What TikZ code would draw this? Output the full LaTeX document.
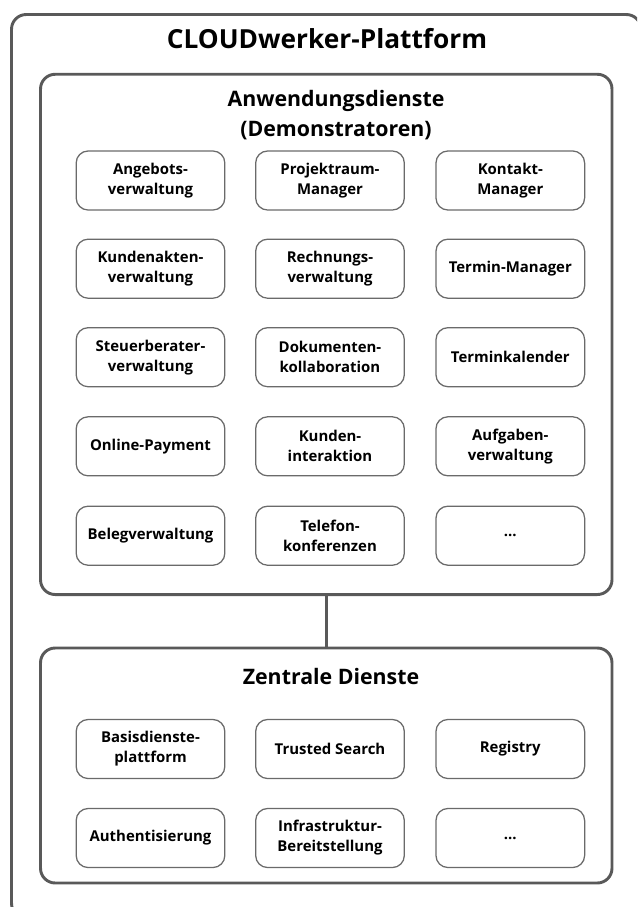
\documentclass[tikz,border=0pt]{standalone}
\usepackage{fontspec}
\setmainfont{Open Sans}
\definecolor{linegray}{HTML}{595959}
\definecolor{boxgray}{HTML}{6A6A6A}
\begin{document}
\begin{tikzpicture}[x=0.75pt,y=-0.75pt,
  bigbox/.style={draw=linegray, line width=2.2pt, rounded corners=11pt, inner sep=0pt, outer sep=0pt},
  sbox/.style={draw=boxgray, line width=0.95pt, rounded corners=9pt, minimum width=111.5pt, minimum height=44.3pt, align=center, font=\fontsize{11.2}{15}\selectfont\bfseries, inner sep=0pt, outer sep=0pt},
  titlefont/.style={font=\fontsize{19.7}{24}\selectfont\bfseries, inner sep=0pt},
  headfont/.style={font=\fontsize{16}{22.5}\selectfont\bfseries, inner sep=0pt, align=center},
  conn/.style={draw=linegray, line width=2.2pt}]
\useasboundingbox (0,0) rectangle (637,907);
\clip (0,0) rectangle (637,907);
% containers
\node[bigbox, minimum width=472.1pt, minimum height=677.6pt] (plat) at (326.25,466.25) {};
\node[bigbox, minimum width=428.6pt, minimum height=390.2pt] (anw) at (326.25,334.4) {};
\node[bigbox, minimum width=428.6pt, minimum height=176.25pt] (zen) at (326.25,765.5) {};
\draw[conn] (anw.south) -- (zen.north);
% headings
\node[titlefont, anchor=base] (title) at (327,48) {CLOUDwerker-Plattform};
\node[headfont] (anwt) at (336,115.5) {Anwendungsdienste\\(Demonstratoren)};
\node[headfont, anchor=base] (zent) at (331,684.3) {Zentrale Dienste};
% Anwendungsdienste
\node[sbox] (a11) at (150.5,180.5) {Angebots-\\verwaltung};
\node[sbox] (a12) at (330,180.5) {Projektraum-\\Manager};
\node[sbox] (a13) at (510.3,180.5) {Kontakt-\\Manager};
\node[sbox] (a21) at (150.5,268.7) {Kundenakten-\\verwaltung};
\node[sbox] (a22) at (330,268.7) {Rechnungs-\\verwaltung};
\node[sbox] (a23) at (510.3,268.7) {Termin-Manager};
\node[sbox] (a31) at (150.5,357.2) {Steuerberater-\\verwaltung};
\node[sbox] (a32) at (330,357.2) {Dokumenten-\\kollaboration};
\node[sbox] (a33) at (510.3,357.2) {Terminkalender};
\node[sbox] (a41) at (150.5,446.3) {Online-Payment};
\node[sbox] (a42) at (330,446.3) {Kunden-\\interaktion};
\node[sbox] (a43) at (510.3,446.3) {Aufgaben-\\verwaltung};
\node[sbox] (a51) at (150.5,535.7) {Belegverwaltung};
\node[sbox] (a52) at (330,535.7) {Telefon-\\konferenzen};
\node[sbox] (a53) at (510.3,535.7) {...};
% Zentrale Dienste
\node[sbox] (z11) at (150.5,749) {Basisdienste-\\plattform};
\node[sbox] (z12) at (330,749) {Trusted Search};
\node[sbox] (z13) at (510.3,749) {Registry};
\node[sbox] (z21) at (150.5,838) {Authentisierung};
\node[sbox] (z22) at (330,838) {Infrastruktur-\\Bereitstellung};
\node[sbox] (z23) at (510.3,838) {...};
\end{tikzpicture}
\end{document}
